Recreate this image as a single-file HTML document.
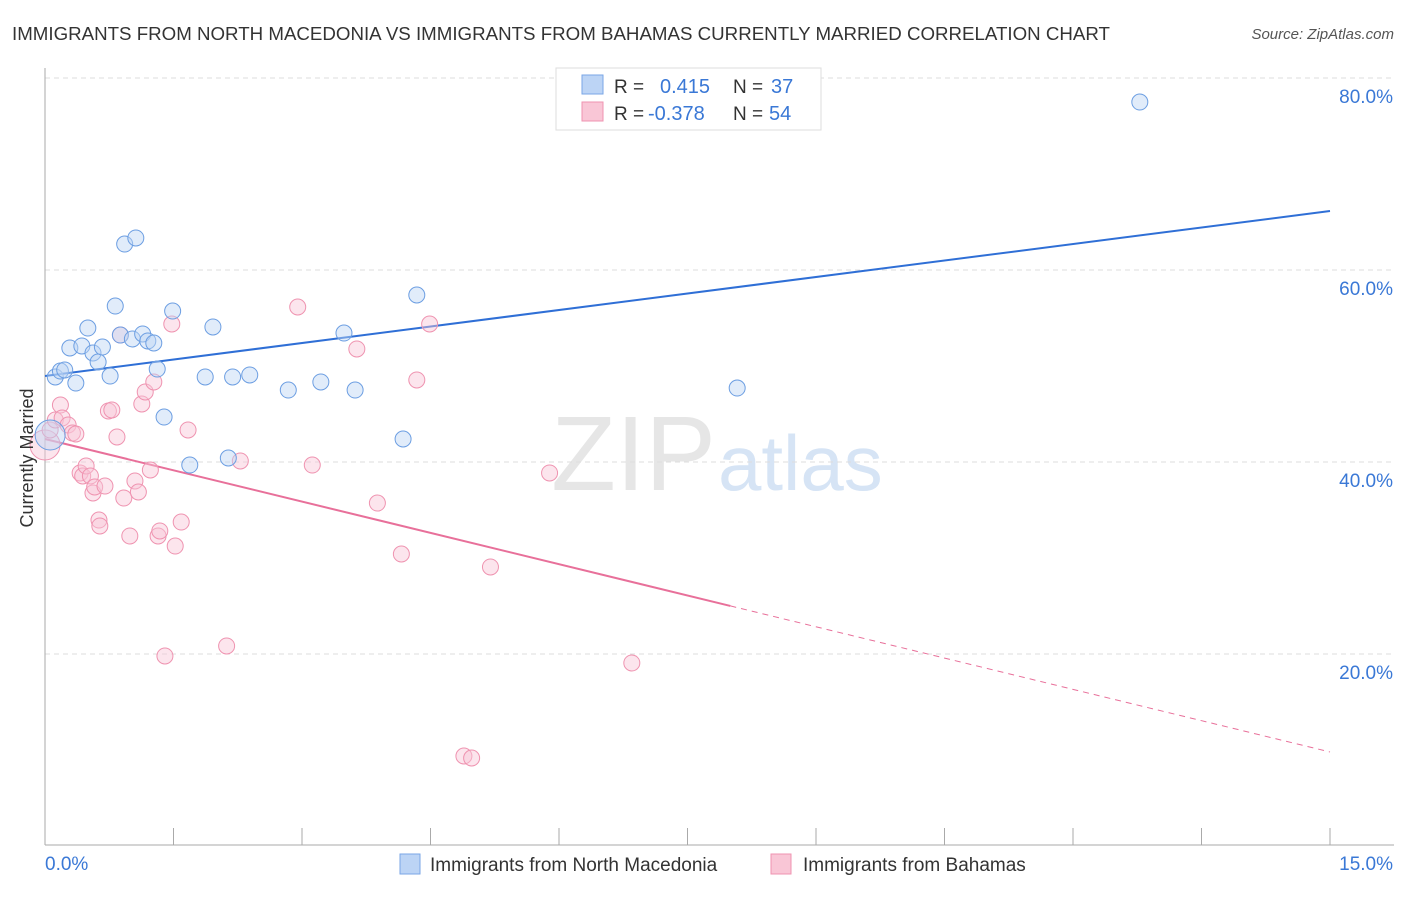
<!DOCTYPE html>
<html><head><meta charset="utf-8"><style>
body{margin:0;background:#fff;font-family:"Liberation Sans",sans-serif;}
svg text{font-family:"Liberation Sans",sans-serif;}
</style></head><body>
<svg id="chart" width="1406" height="892" xmlns="http://www.w3.org/2000/svg">
<text x="12" y="40" font-size="18" fill="#333" textLength="1098" lengthAdjust="spacingAndGlyphs">IMMIGRANTS FROM NORTH MACEDONIA VS IMMIGRANTS FROM BAHAMAS CURRENTLY MARRIED CORRELATION CHART</text>
<text x="1394" y="39" font-size="15" fill="#555" text-anchor="end" font-style="italic">Source: ZipAtlas.com</text>
<text x="716" y="490" font-size="106" fill="#e6e6e6" text-anchor="end" font-family="Liberation Serif">ZIP</text>
<text x="718" y="490" font-size="78" fill="#d6e4f5">atlas</text>
<g id="grid"></g>
<g id="axes"></g>
<g id="lines"></g>
<g id="pts"></g>
<text transform="translate(33,458) rotate(-90)" font-size="18" fill="#333" text-anchor="middle">Currently Married</text>
<g>
<rect x="556" y="68" width="265" height="62" fill="#fff" stroke="#ddd"/>
<rect x="582" y="75" width="21" height="19" fill="#bcd4f5" stroke="#7aa6e6"/>
<rect x="582" y="102" width="21" height="19" fill="#f9c6d6" stroke="#ef93b0"/>
<text x="614" y="93" font-size="19" fill="#333">R =</text>
<text x="660" y="93" font-size="20" fill="#3a78d6">0.415</text>
<text x="733" y="93" font-size="19" fill="#333">N =</text>
<text x="771" y="93" font-size="20" fill="#3a78d6">37</text>
<text x="614" y="120" font-size="19" fill="#333">R =</text>
<text x="648" y="120" font-size="20" fill="#3a78d6">-0.378</text>
<text x="733" y="120" font-size="19" fill="#333">N =</text>
<text x="769" y="120" font-size="20" fill="#3a78d6">54</text>
</g>
<g>
<rect x="400" y="854" width="20" height="20" fill="#bcd4f5" stroke="#7aa6e6"/>
<text x="430" y="871" font-size="19" fill="#333">Immigrants from North Macedonia</text>
<rect x="771" y="854" width="20" height="20" fill="#f9c6d6" stroke="#ef93b0"/>
<text x="803" y="871" font-size="19" fill="#333">Immigrants from Bahamas</text>
</g>
</svg>
<script>
const xTicks=[0,15];
const yTicks=[20,40,60,80];
const blueX=[0.12,0.18,0.23,0.36,0.29,0.43,0.50,0.56,0.62,0.67,0.76,0.82,0.88,0.93,1.02,1.06,1.14,1.20,1.27,1.31,1.39,1.49,1.69,1.87,1.96,2.14,2.19,2.39,2.84,3.22,3.49,3.62,4.18,4.34,8.08,12.78,0.06];
const blueY=[48.96,49.58,49.69,48.33,51.98,52.19,54.06,51.46,50.52,52.08,49.06,56.35,53.33,62.81,52.92,63.44,53.44,52.71,52.50,49.79,44.79,55.83,39.79,48.96,54.17,40.52,48.96,49.17,47.60,48.44,53.54,47.60,42.50,57.50,47.81,77.60,42.92];
const pinkX=[0.0,0.06,0.12,0.18,0.20,0.27,0.32,0.36,0.41,0.44,0.48,0.53,0.56,0.58,0.63,0.64,0.70,0.74,0.78,0.84,0.88,0.92,0.99,1.05,1.09,1.13,1.17,1.23,1.27,1.32,1.34,1.40,1.48,1.52,1.59,1.67,2.12,2.28,2.95,3.12,3.64,3.88,4.16,4.34,4.49,4.89,4.98,5.20,5.89,6.85];
const pinkY=[41.88,43.44,44.48,46.04,44.69,43.96,43.13,43.02,38.96,38.65,39.69,38.65,36.88,37.50,34.06,33.44,37.60,45.42,45.52,42.71,53.33,36.35,32.40,38.13,36.98,46.15,47.40,39.27,48.44,32.40,32.92,19.90,54.48,31.35,33.85,43.44,20.94,40.21,56.25,39.79,51.88,35.83,30.52,48.65,54.48,9.48,9.27,29.17,38.96,19.17];
const blueTrend=[49.06,66.25];
const pinkTrend=[42.5,9.9];
const pinkSolidEnd=8.0;
const NS="http://www.w3.org/2000/svg";
const X=v=>45+v/15*1285, Y=v=>847-v/20*192;
function mk(t,a,p){const e=document.createElementNS(NS,t);for(const k in a)e.setAttribute(k,a[k]);document.getElementById(p).appendChild(e);return e;}
yTicks.forEach(t=>{
 const g=mk('line',{x1:45,x2:1394,y1:Y(t)-1,y2:Y(t)-1,stroke:'#ddd','stroke-dasharray':'5,4'},'grid');
 
 
 const l=mk('text',{x:1393,y:Y(t)+24,'font-size':19,fill:'#3a78d6','text-anchor':'end'},'axes');
 l.textContent=t.toFixed(1)+'%';
 
 
});
const ax=mk('line',{x1:45,x2:1394,y1:845,y2:845,stroke:'#aaa'},'axes');


const ay=mk('line',{x1:45,x2:45,y1:68,y2:845,stroke:'#aaa'},'axes');


for(let k=0;k<=10;k++){const tk=mk('line',{x1:45+k*128.5,x2:45+k*128.5,y1:828,y2:845,stroke:'#aaa'},'axes');
 
 }
xTicks.forEach((t,i)=>{const l=mk('text',{x:i?1393:45,y:870,'font-size':19,fill:'#3a78d6','text-anchor':i?'end':'start'},'axes');
 l.textContent=t.toFixed(1)+'%';
 
 });
function pts(xs,ys,f,s,name){xs.forEach((x,i)=>{const big=i===xs.length-1&&name==='blue-point'||i===0&&name==='pink-point';
 const c=mk('circle',{cx:X(x),cy:Y(ys[i]),r:big?15:8,fill:f,'fill-opacity':0.45,stroke:s,'stroke-width':1},'pts');
 
 });}
pts(pinkX,pinkY,'#f9c6d6','#ef93b0','pink-point');
pts(blueX,blueY,'#bcd4f5','#6c9ee2','blue-point');
const bl=mk('line',{x1:X(0),y1:Y(blueTrend[0]),x2:X(15),y2:Y(blueTrend[1]),stroke:'#2f6fd6','stroke-width':2},'lines');


const pm=pinkTrend[0]+(pinkTrend[1]-pinkTrend[0])*pinkSolidEnd/15;
const pl=mk('line',{x1:X(0),y1:Y(pinkTrend[0]),x2:X(pinkSolidEnd),y2:Y(pm),stroke:'#e8709a','stroke-width':2},'lines');


const pd=mk('line',{x1:X(pinkSolidEnd),y1:Y(pm),x2:X(15),y2:Y(pinkTrend[1]),stroke:'#e8709a','stroke-width':1,'stroke-dasharray':'6,5'},'lines');


</script>
</body></html>
